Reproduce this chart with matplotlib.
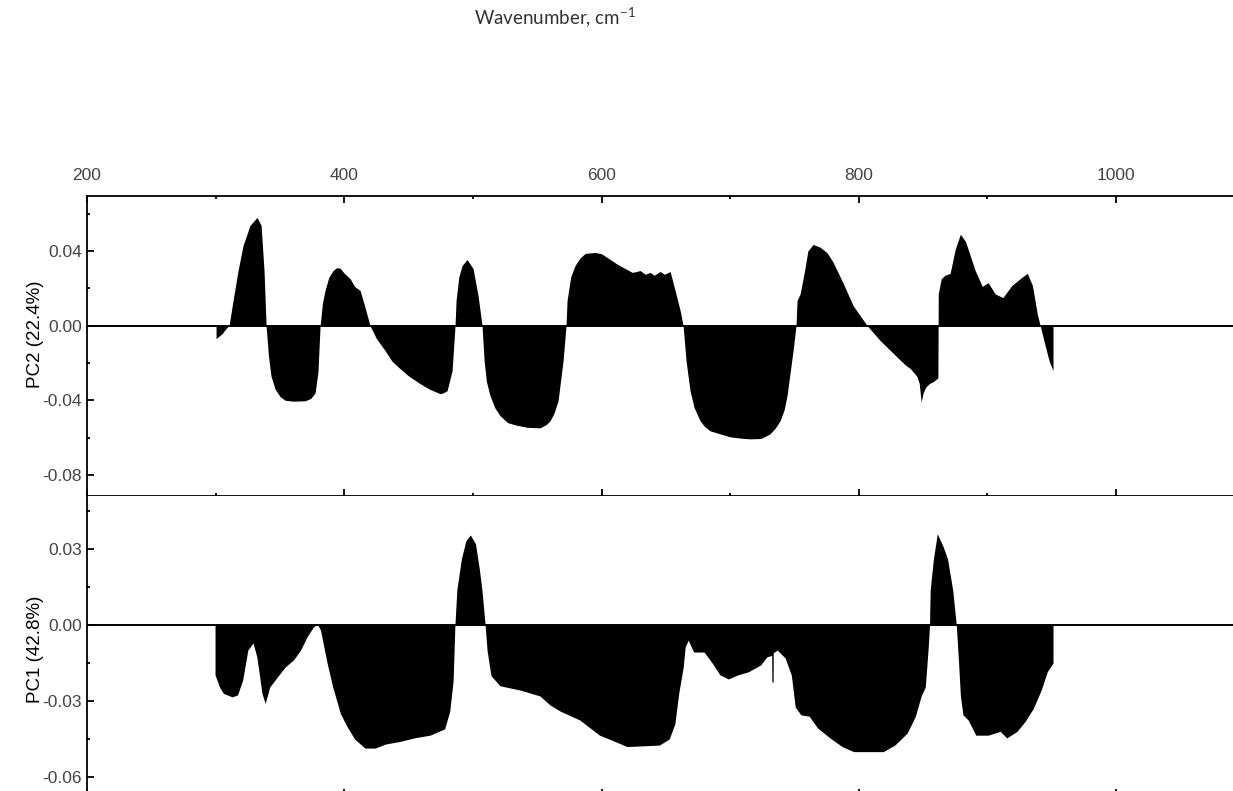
import matplotlib
matplotlib.use("Agg")
from matplotlib import pyplot as plt
from matplotlib.ticker import MultipleLocator, FormatStrFormatter

plt.rcParams['axes.unicode_minus'] = False
plt.rcParams['mathtext.default'] = 'regular'

# PC2 loading (top panel)
pc2_x = [300.3, 305, 308, 310.4, 313.5, 317.4, 321.3, 326.7, 332.2, 335.3, 337.6, 339.2,
         341, 343, 346.2, 350, 354, 360, 369.5, 374, 377.3, 379.5, 381.2,
         383, 385, 388, 391.3, 394, 396.7, 400, 404.5, 408, 412.3, 416, 420,
         425, 431.7, 437, 443.4, 450, 458.9, 466, 474.5, 477, 479.9, 483.8, 486.1,
         486.9, 489, 491.6, 495.4, 500.1, 504, 507.1,
         508.7, 510.5, 513.3, 517, 521.1, 527, 532.8, 542, 552.2, 557, 560, 563, 566.2, 570.1, 572.4,
         573.2, 576, 579.4, 583, 587.2, 595, 600, 606.6, 612, 618.3, 624, 630, 634, 637.7, 641,
         645.5, 649, 653.3, 657.2, 661.1, 663.4,
         665.7, 668.8, 672, 676.6, 680, 684.4, 692, 699.9, 708, 715.5, 724, 731, 735, 738.8,
         742, 744.2, 748.9, 751.2,
         752, 754.4, 758, 760.4, 764.5, 770, 775.4, 780, 787.9, 795.6, 806.5,
         816.6, 824, 830, 836, 840, 845, 847, 848.5, 850, 852, 855, 858, 861.5,
         861.8, 864, 867, 871, 875, 879, 883, 890.5, 896, 900.6, 906, 912, 919, 927, 931, 935,
         938.7, 941, 945, 948, 951]
pc2_y = [-0.007, -0.0043, -0.0016, 0.0, 0.0134, 0.0295, 0.043, 0.0537, 0.058, 0.0537, 0.0295, 0.0,
         -0.016, -0.027, -0.034, -0.038, -0.040, -0.0405, -0.0403, -0.039, -0.036, -0.025, 0.0,
         0.012, 0.0188, 0.026, 0.0295, 0.031, 0.0308, 0.028, 0.0252, 0.021, 0.0188, 0.010, 0.0,
         -0.007, -0.0134, -0.019, -0.0231, -0.027, -0.0311, -0.034, -0.0365, -0.036, -0.0349, -0.0242, 0.0,
         0.0134, 0.026, 0.0322, 0.0354, 0.0306, 0.0161, 0.0,
         -0.0188, -0.030, -0.0376, -0.044, -0.0483, -0.052, -0.0532, -0.0545, -0.0548, -0.053,
         -0.051, -0.047, -0.0403, -0.0188, 0.0,
         0.0134, 0.026, 0.0322, 0.036, 0.0387, 0.0392, 0.0385, 0.0355, 0.033, 0.0306, 0.0285, 0.0295,
         0.0275, 0.0285, 0.027, 0.029, 0.0275, 0.029, 0.0188, 0.0081, 0.0,
         -0.0188, -0.0349, -0.044, -0.051, -0.054, -0.0564, -0.058, -0.0596, -0.0603, -0.0607,
         -0.0605, -0.058, -0.055, -0.051, -0.045, -0.0376, -0.0134, 0.0,
         0.0134, 0.017, 0.030, 0.040, 0.0435, 0.042, 0.039, 0.034, 0.0226, 0.0107, 0.0,
         -0.008, -0.013, -0.017, -0.021, -0.023, -0.027, -0.031, -0.041, -0.036, -0.033, -0.031,
         -0.030, -0.028,
         0.017, 0.025, 0.027, 0.028, 0.041, 0.049, 0.045, 0.0295, 0.021, 0.023, 0.017, 0.015,
         0.0215, 0.026, 0.028, 0.0215, 0.0064, 0.0, -0.011, -0.019, -0.024]

# PC1 loading (bottom panel)
pc1_x = [299.5, 303, 306, 312.8, 317, 321, 325, 329, 332, 336, 338.5, 342, 348, 354, 360.5, 366,
         371, 376, 379, 381.5, 386.6, 391, 397, 402, 408, 416, 424, 432, 443, 455, 466.7, 478,
         482, 484.6, 486, 487.5, 491, 494.5, 498, 502, 505, 507, 509.5,
         511, 514, 521, 536.7, 552, 560, 567.8, 583, 598.4, 607.7, 619.8, 645, 652.6, 657, 660,
         663.5, 665, 667.4, 671.6, 679.7, 686, 692, 698.6, 706, 714, 723.7, 728.5, 732.3, 732.4,
         733.4, 733.5, 736.5, 742.7, 747.5, 750.6, 755, 761.4, 768, 777.6, 787, 796, 819, 828, 837.6,
         844, 848.5, 851.7, 854, 855, 855.5, 858, 861, 865.5, 869, 873, 875.8,
         877.6, 879, 881, 885, 891, 900.6, 910, 915, 923, 929.4, 935.6, 941.8, 946.5, 951]
pc1_y = [-0.0197, -0.0245, -0.027, -0.0284, -0.0276, -0.0217, -0.0099, -0.0071, -0.0126, -0.027,
         -0.031, -0.0245, -0.0205, -0.0166, -0.0138, -0.0099,
         -0.0047, -0.0008, 0.0003, -0.002, -0.015, -0.0245, -0.035, -0.040, -0.045, -0.0486, -0.0486,
         -0.047, -0.046, -0.0445, -0.0435, -0.041,
         -0.034, -0.022, 0.0, 0.0138, 0.026, 0.0332, 0.0355, 0.032, 0.022, 0.0138, 0.0,
         -0.010, -0.020, -0.024, -0.0257, -0.028, -0.0316, -0.034, -0.0375, -0.0435, -0.0454, -0.048,
         -0.0474, -0.045, -0.039, -0.027,
         -0.0166, -0.0087, -0.006, -0.0107, -0.0107, -0.015, -0.0197, -0.0213, -0.0197, -0.0185,
         -0.0158, -0.0126, -0.012, -0.0225,
         -0.0225, -0.011, -0.0099, -0.013, -0.0197, -0.0324, -0.0355, -0.036, -0.0407, -0.0446,
         -0.048, -0.050, -0.050, -0.0474, -0.0427,
         -0.036, -0.028, -0.0245, -0.0087, 0.0, 0.0138, 0.026, 0.036, 0.031, 0.026, 0.0138, 0.0,
         -0.015, -0.028, -0.0355, -0.0375, -0.0435, -0.0435, -0.042, -0.0446, -0.042, -0.038, -0.033,
         -0.0257, -0.0185, -0.015]

label_color = "#444444"

fig = plt.figure(figsize=(12.33, 7.91), dpi=100)

#top panel
ax1 = fig.add_axes([0.0706, 0.373, 0.9351, 0.3793])
ax1.fill_between(pc2_x, pc2_y, 0, color="black", lw=0)
ax1.axhline(0, color="black", lw=1.4)
ax1.set_xlim(200, 1096.4)
ax1.set_ylim(-0.0913, 0.0695)
ax1.xaxis.set_major_locator(MultipleLocator(200))
ax1.xaxis.set_minor_locator(MultipleLocator(100))
ax1.yaxis.set_major_locator(MultipleLocator(0.04))
ax1.yaxis.set_minor_locator(MultipleLocator(0.02))
ax1.yaxis.set_major_formatter(FormatStrFormatter('%.2f'))
ax1.tick_params(which='both', direction='in', top=True, bottom=True, right=False,
                labeltop=True, labelbottom=False, colors="black", labelcolor=label_color,
                labelsize=12.5)
ax1.tick_params(axis='x', pad=9)
ax1.tick_params(which='major', length=5, width=1.3)
ax1.tick_params(which='minor', length=2.5, width=1.3)
ax1.spines['right'].set_visible(False)
for s in ['top', 'bottom', 'left']:
    ax1.spines[s].set_linewidth(1.3)
ax1.set_ylabel("PC2 (22.4%)", fontsize=13.5, color="black", family="Liberation Sans")
ax1.yaxis.set_label_coords(-0.037, 0.54)

#bottom panel
ax2 = fig.add_axes([0.0706, -0.0063, 0.9351, 0.3793])
ax2.fill_between(pc1_x, pc1_y, 0, color="black", lw=0)
ax2.axhline(0, color="black", lw=1.4)
ax2.set_xlim(200, 1096.4)
ax2.set_ylim(-0.0675, 0.0509)
ax2.xaxis.set_major_locator(MultipleLocator(200))
ax2.xaxis.set_minor_locator(MultipleLocator(100))
ax2.yaxis.set_major_locator(MultipleLocator(0.03))
ax2.yaxis.set_minor_locator(MultipleLocator(0.015))
ax2.yaxis.set_major_formatter(FormatStrFormatter('%.2f'))
ax2.tick_params(which='both', direction='in', top=False, bottom=True, right=False,
                labelbottom=False, colors="black", labelcolor=label_color, labelsize=12.5)
ax2.tick_params(which='major', length=5, width=1.3)
ax2.tick_params(which='minor', length=2.5, width=1.3)
ax2.spines['right'].set_visible(False)
ax2.spines['top'].set_visible(False)
for s in ['bottom', 'left']:
    ax2.spines[s].set_linewidth(1.3)
ax2.set_ylabel("PC1 (42.8%)", fontsize=13.5, color="black", family="Liberation Sans")
ax2.yaxis.set_label_coords(-0.037, 0.49)

for ax in (ax1, ax2):
    for lab in ax.get_xticklabels() + ax.get_yticklabels():
        lab.set_family("Liberation Sans")

fig.text(0.45, 0.978, "Wavenumber, cm$^{-1}$", ha="center", va="center",
         fontsize=13.5, family="Lato", color="#333333")

fig.savefig("out.png", dpi=100)
